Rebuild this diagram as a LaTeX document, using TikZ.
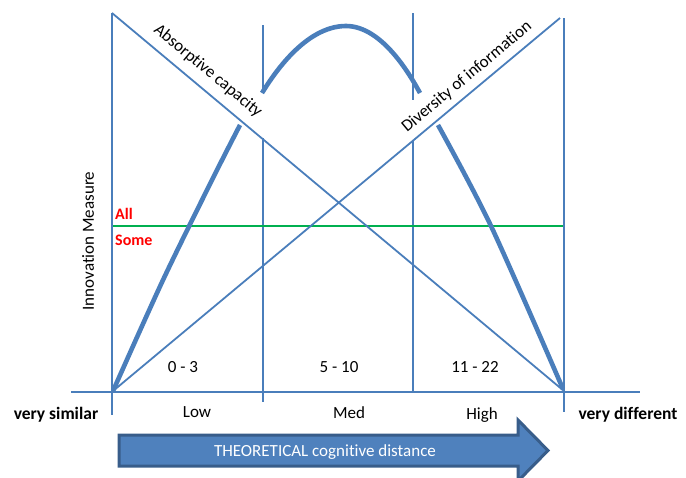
\documentclass[tikz,border=0pt]{standalone}
\usepackage{fontspec}
\setmainfont{Carlito}[Ligatures={NoCommon}]
\definecolor{lblue}{RGB}{74,126,187}
\definecolor{afill}{RGB}{79,129,189}
\definecolor{aline}{RGB}{56,93,138}
\definecolor{lgreen}{RGB}{0,176,80}
\definecolor{lred}{RGB}{255,0,0}
\begin{document}
\begin{tikzpicture}[x=1pt,y=-1pt,
  thin line/.style={draw=lblue,line width=1.8pt},
  thick curve/.style={draw=lblue,line width=4.6pt},
  lbl/.style={font=\fontsize{17}{19}\selectfont,inner sep=0pt},
  boldlbl/.style={font=\fontsize{17.5}{19}\selectfont\bfseries,inner sep=0pt},
  redlbl/.style={font=\fontsize{16}{18}\selectfont\bfseries,text=lred,inner sep=0pt,anchor=west},
  arrowbox/.style={draw=aline,fill=afill,line width=3pt,line join=miter}]
\useasboundingbox (0,0) rectangle (686,477);
\clip (0,0) rectangle (686,477);
% corner coordinates
\coordinate (tl) at (112,13);
\coordinate (bl) at (113,391);
\coordinate (br) at (564,391);
\coordinate (tr) at (560,18);
% vertical lines
\draw[thin line] (112,13) -- (112,415);
\draw[thin line] (263,25) -- (263,93);
\draw[thin line] (263,138) -- (263,402);
\draw[thin line] (413,13) -- (413,100);
\draw[thin line] (413,140) -- (413,391);
\draw[thin line] (564,18) -- (564,412);
% axis
\draw[thin line] (71,392) -- (640,392);
% green line
\draw[draw=lgreen,line width=2.4pt] (113,226) -- (563,226);
% diagonals
\draw[thin line] (tl) -- (br);
\draw[thin line] (bl) -- (tr);
% thick curve
\draw[thick curve] plot[smooth,tension=0.5] coordinates {(113,391) (163,280) (212,180) (240,125)};
\draw[thick curve] (262,93) parabola bend (346,26) (420,93);
\draw[thick curve] plot[smooth,tension=0.5] coordinates {(438,125) (491,226) (563,389)};
% rotated labels
\node[lbl,rotate=-39.7] (absorb) at (208,71) {Absorptive capacity};
\node[lbl,rotate=39.8] (divers) at (467,77) {Diversity of information};
\node[lbl,rotate=90] (innov) at (88,241) {Innovation Measure};
% red labels
\node[redlbl] (all) at (115,214) {All};
\node[redlbl] (some) at (115,240) {Some};
% range labels
\node[lbl] (r1) at (183,367) {0 - 3};
\node[lbl] (r2) at (339,367) {5 - 10};
\node[lbl] (r3) at (475,367) {11 - 22};
\node[lbl] (low) at (197,412) {Low};
\node[lbl] (med) at (349,413) {Med};
\node[lbl] (high) at (482,415) {High};
\node[boldlbl] (vs) at (56,415) {very similar};
\node[boldlbl] (vd) at (628,415) {very different};
% big arrow
\draw[arrowbox] (119,435) -- (518,435) -- (518,420) -- (548,450.5) -- (518,481) -- (518,466) -- (119,466) -- cycle;
\node[lbl,text=white] (arrowtxt) at (325,452) {THEORETICAL cognitive distance};
\end{tikzpicture}
\end{document}
